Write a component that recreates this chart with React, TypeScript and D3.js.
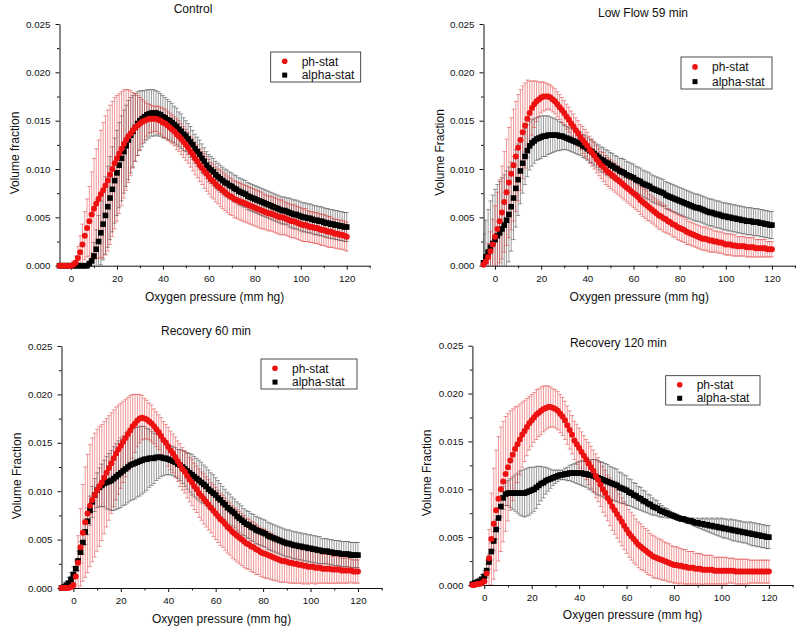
import React, { useEffect, useRef } from 'react'
import * as d3 from 'd3'

// oxygen pressure grid (mm hg), one reading per mm hg
const pressure = d3.range(-5, 121)

// volume fractions in units of 1e-4, *Sd = half length of the error bar
const controlPh = [
  0, 0, 0, 0, 0, 0, 1, 3, 8, 14,
  22, 31, 39, 46, 53, 59, 64, 69, 74, 78,
  83, 88, 94, 100, 106, 111, 116, 121, 126, 130,
  134, 137, 140, 143, 145, 147, 149, 150, 151, 152,
  152, 152, 152, 151, 150, 148, 147, 145, 143, 141,
  139, 136, 134, 131, 128, 125, 122, 118, 115, 111,
  108, 104, 101, 98, 95, 92, 89, 87, 84, 82,
  80, 78, 76, 74, 72, 71, 69, 68, 67, 66,
  65, 64, 63, 62, 61, 60, 59, 58, 57, 56,
  55, 54, 54, 53, 52, 51, 50, 50, 49, 48,
  47, 46, 46, 45, 44, 43, 42, 42, 41, 40,
  40, 39, 39, 38, 37, 37, 36, 35, 35, 34,
  33, 33, 32, 32, 31, 30]
const controlPhSd = [
  0, 0, 0, 0, 1, 2, 4, 7, 12, 17,
  21, 25, 30, 36, 44, 52, 57, 61, 66, 70,
  72, 73, 72, 70, 68, 65, 62, 59, 56, 52,
  48, 44, 39, 35, 31, 27, 23, 20, 17, 15,
  14, 13, 13, 14, 14, 15, 15, 15, 15, 15,
  15, 16, 16, 16, 16, 16, 16, 16, 17, 17,
  17, 17, 17, 18, 18, 18, 18, 18, 18, 18,
  19, 19, 19, 19, 19, 19, 19, 19, 19, 19,
  19, 19, 19, 19, 19, 19, 19, 19, 19, 18,
  18, 18, 18, 18, 18, 18, 18, 18, 17, 17,
  17, 17, 17, 17, 17, 17, 17, 17, 16, 16,
  16, 16, 16, 16, 16, 16, 16, 16, 16, 15,
  15, 15, 15, 15, 15, 15]
const controlAlpha = [
  0, 0, 0, 0, 0, 0, 0, 0, 0, 0,
  0, 0, 0, 2, 5, 10, 17, 25, 34, 43,
  52, 61, 70, 79, 88, 96, 104, 111, 118, 124,
  130, 135, 139, 143, 147, 150, 152, 154, 156, 157,
  158, 158, 158, 157, 156, 154, 153, 151, 150, 148,
  146, 144, 141, 139, 136, 134, 131, 128, 125, 121,
  118, 115, 111, 108, 104, 101, 99, 97, 94, 92,
  90, 88, 86, 85, 83, 82, 80, 79, 77, 76,
  75, 74, 72, 71, 70, 69, 68, 67, 66, 65,
  64, 63, 62, 61, 60, 59, 58, 57, 57, 56,
  55, 54, 53, 53, 52, 51, 50, 50, 49, 49,
  48, 47, 47, 46, 46, 45, 44, 44, 43, 43,
  42, 42, 41, 41, 40, 40]
const controlAlphaSd = [
  0, 0, 0, 0, 0, 0, 0, 0, 0, 0,
  0, 0, 0, 3, 8, 14, 20, 27, 33, 37,
  40, 42, 43, 44, 44, 44, 44, 44, 43, 42,
  41, 39, 37, 35, 33, 31, 29, 27, 26, 25,
  24, 24, 23, 23, 22, 22, 21, 21, 20, 20,
  19, 19, 18, 18, 17, 16, 16, 16, 15, 15,
  15, 15, 15, 14, 14, 14, 14, 14, 14, 14,
  14, 14, 14, 14, 14, 14, 14, 14, 14, 14,
  14, 14, 14, 14, 14, 14, 14, 14, 14, 14,
  14, 14, 14, 14, 14, 14, 14, 14, 14, 14,
  15, 15, 15, 15, 15, 15, 15, 15, 15, 15,
  15, 15, 15, 15, 15, 15, 15, 15, 15, 15,
  15, 15, 15, 15, 15, 15]

const lowFlowPh = [
  1, 4, 9, 15, 22, 30, 38, 46, 55, 66,
  76, 86, 95, 104, 113, 122, 130, 138, 145, 152,
  158, 163, 167, 170, 172, 174, 175, 175, 175, 174,
  172, 170, 167, 164, 161, 158, 154, 151, 147, 144,
  140, 137, 133, 130, 127, 124, 120, 117, 114, 110,
  107, 104, 102, 99, 97, 95, 93, 91, 89, 87,
  85, 83, 81, 79, 77, 75, 73, 71, 68, 66,
  64, 62, 60, 58, 56, 54, 52, 51, 49, 48,
  46, 45, 43, 42, 40, 39, 38, 37, 35, 34,
  33, 32, 31, 30, 29, 28, 28, 27, 26, 26,
  25, 25, 24, 24, 23, 22, 22, 22, 21, 21,
  20, 20, 20, 20, 19, 19, 19, 19, 18, 18,
  18, 18, 18, 17, 17, 17]
const lowFlowPhSd = [
  3, 8, 14, 20, 26, 32, 38, 43, 48, 52,
  55, 57, 58, 58, 57, 55, 52, 48, 44, 40,
  33, 28, 24, 21, 18, 16, 15, 14, 13, 13,
  13, 13, 13, 13, 13, 13, 13, 13, 13, 13,
  13, 13, 13, 14, 14, 14, 14, 14, 14, 14,
  14, 14, 15, 15, 15, 15, 15, 15, 15, 15,
  15, 15, 15, 15, 15, 15, 15, 15, 15, 15,
  15, 15, 14, 14, 14, 14, 14, 14, 14, 14,
  13, 13, 13, 13, 13, 13, 13, 13, 13, 12,
  12, 12, 12, 12, 12, 12, 12, 12, 12, 12,
  11, 11, 11, 11, 11, 11, 11, 11, 11, 11,
  10, 10, 10, 10, 10, 10, 10, 10, 9, 9,
  9, 9, 9, 8, 8, 8]
const lowFlowAlpha = [
  3, 9, 14, 19, 23, 27, 31, 34, 38, 42,
  47, 53, 61, 70, 80, 89, 98, 106, 113, 119,
  124, 127, 129, 131, 132, 133, 134, 134, 135, 135,
  135, 135, 135, 134, 134, 133, 132, 131, 130, 129,
  128, 127, 126, 124, 123, 121, 119, 118, 116, 114,
  112, 110, 109, 107, 106, 104, 103, 101, 100, 98,
  97, 96, 94, 93, 92, 91, 89, 88, 87, 85,
  84, 83, 82, 80, 79, 78, 77, 76, 75, 73,
  72, 71, 70, 69, 68, 67, 66, 65, 64, 63,
  62, 61, 60, 60, 59, 58, 57, 56, 55, 55,
  54, 53, 53, 52, 51, 51, 50, 50, 49, 49,
  48, 48, 47, 47, 46, 46, 46, 45, 45, 45,
  44, 44, 43, 43, 42, 42]
const lowFlowAlphaSd = [
  30, 38, 44, 48, 50, 52, 53, 53, 53, 52,
  51, 49, 46, 43, 40, 37, 34, 31, 29, 27,
  25, 24, 23, 22, 22, 22, 21, 21, 20, 19,
  18, 17, 16, 15, 14, 13, 12, 12, 12, 12,
  12, 12, 12, 12, 12, 12, 12, 12, 12, 12,
  13, 13, 13, 13, 13, 13, 13, 13, 13, 13,
  14, 14, 14, 14, 14, 14, 14, 14, 14, 14,
  14, 14, 14, 14, 14, 14, 14, 14, 14, 14,
  14, 14, 14, 14, 14, 14, 14, 14, 14, 14,
  14, 14, 14, 14, 14, 14, 14, 14, 14, 14,
  14, 14, 14, 14, 14, 14, 14, 14, 14, 14,
  14, 14, 14, 14, 14, 14, 14, 14, 14, 14,
  14, 14, 14, 14, 14, 14]

const rec60Ph = [
  0, 0, 0, 0, 1, 3, 12, 26, 42, 57,
  68, 77, 85, 91, 96, 101, 105, 109, 114, 119,
  124, 129, 134, 139, 143, 147, 151, 155, 159, 163,
  167, 170, 173, 175, 176, 175, 174, 172, 170, 167,
  164, 161, 157, 153, 150, 146, 142, 139, 135, 131,
  127, 123, 120, 116, 112, 109, 105, 102, 98, 95,
  92, 89, 86, 83, 80, 77, 74, 71, 69, 66,
  63, 61, 58, 56, 54, 52, 50, 48, 46, 45,
  43, 42, 40, 39, 37, 36, 35, 34, 33, 32,
  31, 30, 29, 28, 28, 27, 26, 26, 25, 25,
  24, 24, 23, 23, 22, 22, 22, 21, 21, 21,
  20, 20, 20, 20, 19, 19, 19, 19, 18, 18,
  18, 18, 18, 17, 17, 17]
const rec60PhSd = [
  0, 0, 0, 0, 2, 6, 15, 28, 40, 50,
  57, 61, 63, 64, 64, 63, 62, 60, 58, 56,
  54, 52, 50, 48, 46, 44, 42, 40, 38, 36,
  33, 30, 27, 25, 23, 21, 20, 19, 19, 18,
  18, 18, 19, 19, 19, 20, 20, 20, 21, 21,
  22, 22, 22, 23, 23, 24, 24, 24, 25, 25,
  26, 26, 26, 26, 27, 27, 27, 27, 27, 27,
  27, 27, 27, 27, 27, 27, 27, 27, 26, 26,
  26, 26, 26, 25, 25, 25, 25, 24, 24, 24,
  23, 23, 23, 22, 22, 21, 21, 21, 20, 20,
  19, 19, 19, 18, 18, 17, 17, 17, 16, 16,
  15, 15, 15, 15, 14, 14, 14, 14, 13, 13,
  13, 13, 12, 12, 12, 12]
const rec60Alpha = [
  0, 1, 3, 5, 9, 14, 20, 28, 37, 47,
  58, 69, 80, 89, 96, 101, 104, 106, 108, 109,
  110, 111, 113, 115, 117, 119, 121, 123, 125, 127,
  128, 129, 130, 131, 132, 133, 133, 134, 134, 134,
  135, 135, 135, 134, 134, 133, 132, 131, 130, 128,
  127, 125, 123, 121, 119, 117, 115, 113, 111, 109,
  107, 105, 102, 100, 98, 96, 93, 91, 88, 86,
  83, 81, 79, 77, 74, 72, 70, 68, 66, 65,
  63, 62, 60, 59, 58, 57, 56, 54, 53, 52,
  51, 50, 49, 48, 47, 46, 46, 45, 44, 44,
  43, 43, 42, 42, 41, 41, 40, 40, 39, 39,
  38, 38, 38, 37, 37, 36, 36, 36, 35, 35,
  35, 35, 34, 34, 34, 34]
const rec60AlphaSd = [
  1, 2, 4, 6, 7, 8, 9, 10, 11, 12,
  13, 14, 15, 16, 17, 18, 20, 22, 24, 27,
  29, 31, 33, 34, 35, 36, 36, 37, 37, 37,
  37, 37, 36, 36, 35, 34, 32, 30, 28, 26,
  24, 22, 20, 18, 17, 16, 15, 15, 15, 15,
  16, 17, 18, 19, 20, 21, 21, 21, 21, 21,
  20, 20, 20, 19, 19, 18, 18, 17, 17, 16,
  16, 16, 15, 15, 15, 15, 15, 14, 14, 14,
  14, 14, 14, 14, 14, 14, 14, 14, 14, 14,
  14, 14, 14, 14, 14, 14, 14, 14, 14, 14,
  14, 14, 14, 14, 14, 14, 14, 14, 14, 14,
  13, 13, 13, 13, 13, 13, 13, 13, 13, 13,
  13, 13, 13, 13, 13, 13]

const rec120Ph = [
  0, 0, 1, 1, 2, 4, 12, 28, 48, 64,
  78, 90, 100, 108, 116, 123, 130, 136, 142, 147,
  152, 157, 161, 165, 169, 172, 175, 178, 180, 182,
  184, 185, 186, 186, 185, 184, 182, 179, 176, 172,
  167, 162, 157, 151, 147, 143, 139, 135, 131, 127,
  123, 119, 114, 110, 105, 100, 96, 91, 87, 82,
  78, 74, 70, 66, 62, 58, 54, 51, 48, 45,
  42, 40, 38, 36, 34, 32, 30, 29, 28, 27,
  26, 25, 24, 23, 22, 21, 21, 20, 20, 19,
  19, 18, 18, 18, 17, 17, 17, 16, 16, 16,
  16, 16, 15, 15, 15, 15, 15, 15, 15, 15,
  15, 14, 14, 14, 14, 14, 14, 14, 14, 14,
  14, 14, 14, 14, 14, 14]
const rec120PhSd = [
  0, 0, 0, 1, 2, 5, 14, 30, 48, 58,
  63, 65, 65, 63, 60, 56, 52, 48, 44, 40,
  37, 34, 32, 30, 28, 27, 26, 26, 25, 25,
  24, 23, 22, 21, 20, 20, 20, 20, 20, 20,
  20, 20, 20, 20, 21, 21, 21, 21, 21, 22,
  22, 22, 23, 23, 23, 24, 24, 24, 25, 25,
  25, 25, 25, 25, 25, 25, 25, 25, 25, 24,
  24, 24, 23, 23, 23, 22, 22, 22, 21, 21,
  21, 20, 20, 20, 19, 19, 19, 19, 18, 18,
  18, 17, 17, 17, 16, 16, 16, 16, 15, 15,
  15, 15, 14, 14, 14, 14, 14, 14, 13, 13,
  13, 13, 13, 13, 13, 13, 13, 12, 12, 12,
  12, 12, 12, 12, 12, 12]
const rec120Alpha = [
  1, 2, 3, 4, 6, 9, 15, 24, 35, 46,
  58, 70, 82, 91, 95, 96, 96, 96, 96, 96,
  96, 96, 96, 97, 98, 99, 100, 102, 104, 106,
  107, 109, 110, 111, 112, 113, 114, 115, 115, 116,
  116, 117, 117, 117, 117, 117, 117, 116, 116, 115,
  115, 114, 113, 112, 111, 110, 109, 108, 107, 106,
  105, 104, 102, 101, 100, 99, 97, 96, 94, 93,
  91, 90, 88, 87, 85, 84, 82, 81, 80, 78,
  77, 76, 75, 74, 73, 72, 71, 70, 69, 69,
  68, 67, 67, 66, 65, 65, 64, 64, 63, 63,
  62, 62, 61, 61, 60, 60, 59, 59, 58, 58,
  57, 57, 56, 56, 55, 55, 54, 54, 53, 53,
  52, 52, 51, 51, 50, 50]
const rec120AlphaSd = [
  1, 2, 3, 4, 5, 6, 7, 8, 9, 10,
  10, 11, 11, 12, 12, 13, 15, 17, 19, 21,
  23, 24, 25, 25, 25, 24, 23, 22, 20, 18,
  16, 14, 12, 10, 8, 7, 6, 5, 5, 6,
  7, 8, 9, 10, 11, 12, 13, 13, 14, 15,
  16, 17, 18, 18, 18, 18, 18, 18, 17, 17,
  17, 17, 16, 16, 15, 15, 14, 14, 13, 13,
  12, 12, 11, 11, 10, 10, 9, 8, 8, 7,
  6, 5, 5, 4, 3, 3, 3, 2, 2, 2,
  2, 3, 3, 4, 4, 5, 5, 6, 6, 7,
  7, 8, 8, 9, 9, 10, 10, 10, 10, 11,
  11, 11, 11, 11, 11, 11, 11, 12, 12, 12,
  12, 12, 12, 12, 12, 12]

const UNIT = 1e-4
const xMajor = [0, 20, 40, 60, 80, 100, 120]
const xMinor = [10, 30, 50, 70, 90, 110, 130]
const yMajor = [0, 0.005, 0.01, 0.015, 0.02, 0.025]
const yMinor = [0.0025, 0.0075, 0.0125, 0.0175, 0.0225]
const seriesNames = ['ph-stat', 'alpha-stat']

const FONT = '"Liberation Sans", Arial, Helvetica, sans-serif'
const RED = '#ee1111'

type Panel = {
  title: string
  yLabel: string
  ph: number[]
  phSd: number[]
  alpha: number[]
  alphaSd: number[]
  box: { left: number; right: number; top: number; bottom: number }
  titlePos: [number, number]
  yLabelPos: [number, number]
  xLabelY: number
  legend: { x: number; y: number; w: number; h: number }
}

const panels: Panel[] = [
  {
    title: 'Control', yLabel: 'Volume fraction',
    ph: controlPh, phSd: controlPhSd, alpha: controlAlpha, alphaSd: controlAlphaSd,
    box: { left: 59.5, right: 369.7, top: 24, bottom: 265.7 },
    titlePos: [193, 13.3], yLabelPos: [18.5, 153], xLabelY: 301,
    legend: { x: 270.7, y: 52, w: 90, h: 30 },
  },
  {
    title: 'Low Flow 59 min', yLabel: 'Volume Fraction',
    ph: lowFlowPh, phSd: lowFlowPhSd, alpha: lowFlowAlpha, alphaSd: lowFlowAlphaSd,
    box: { left: 483.5, right: 795, top: 24, bottom: 265.7 },
    titlePos: [643, 16.7], yLabelPos: [443.5, 152.5], xLabelY: 301,
    legend: { x: 681, y: 57, w: 91, h: 32 },
  },
  {
    title: 'Recovery 60 min', yLabel: 'Volume Fraction',
    ph: rec60Ph, phSd: rec60PhSd, alpha: rec60Alpha, alphaSd: rec60AlphaSd,
    box: { left: 61.5, right: 381.7, top: 346, bottom: 588 },
    titlePos: [206, 335], yLabelPos: [20.5, 476], xLabelY: 622.5,
    legend: { x: 261, y: 359, w: 96, h: 30 },
  },
  {
    title: 'Recovery 120 min', yLabel: 'Volume Fraction',
    ph: rec120Ph, phSd: rec120PhSd, alpha: rec120Alpha, alphaSd: rec120AlphaSd,
    box: { left: 472.4, right: 792.6, top: 345.7, bottom: 585 },
    titlePos: [618.3, 346.5], yLabelPos: [430.5, 473], xLabelY: 619,
    legend: { x: 665.7, y: 375.7, w: 94.3, h: 29.3 },
  },
]

export default function App() {
  const ref = useRef<SVGSVGElement | null>(null)

  useEffect(() => {
    const svg = d3.select(ref.current!)
    svg.selectAll('*').remove()
    svg.append('rect').attr('width', 800).attr('height', 631).attr('fill', '#fff')

    panels.forEach((p, pi) => {
      const { left, right, top, bottom } = p.box
      const x = d3.scaleLinear().domain([-5, 130]).range([left, right])
      const y = d3.scaleLinear().domain([0, 0.025]).range([bottom, top])
      const g = svg.append('g').attr('font-family', FONT)

      const clipId = `clip${pi}`
      g.append('clipPath').attr('id', clipId).append('rect')
        .attr('x', left).attr('y', top).attr('width', right - left).attr('height', bottom - top)

      // axes
      const xAxis = g.append('g').attr('transform', `translate(0,${bottom})`)
        .call(d3.axisBottom(x).tickValues(xMajor).tickSize(4).tickSizeOuter(0).tickPadding(5.5).tickFormat(d3.format('d')))
      g.append('g').attr('transform', `translate(0,${bottom})`)
        .call(d3.axisBottom(x).tickValues(xMinor).tickSize(2.5).tickFormat(() => ''))
        .call(a => a.select('.domain').remove())
      const yAxis = g.append('g').attr('transform', `translate(${left},0)`)
        .call(d3.axisLeft(y).tickValues(yMajor).tickSize(4).tickSizeOuter(0).tickPadding(5).tickFormat(d3.format('.3f')))
      g.append('g').attr('transform', `translate(${left},0)`)
        .call(d3.axisLeft(y).tickValues(yMinor).tickSize(2.5).tickFormat(() => ''))
        .call(a => a.select('.domain').remove())
      ;[xAxis, yAxis].forEach(a => a.selectAll('text').attr('font-family', FONT).attr('font-size', 9.8).attr('fill', '#111'))
      g.selectAll('.domain, .tick line').attr('stroke', '#111')

      // error bars
      const bars = (vals: number[], sds: number[], color: string, width: number, opacity: number) => {
        const layer = g.append('g').attr('clip-path', `url(#${clipId})`)
          .attr('stroke', color).attr('stroke-width', width).attr('stroke-opacity', opacity)
        pressure.forEach((px, i) => {
          const v = vals[i], s = sds[i]
          if (v === undefined || !s) return
          const cx = x(px)
          const y0 = y((v - s) * UNIT), y1 = y((v + s) * UNIT)
          layer.append('line').attr('x1', cx).attr('x2', cx).attr('y1', y0).attr('y2', y1)
          layer.append('line').attr('x1', cx - 2).attr('x2', cx + 2).attr('y1', y1).attr('y2', y1)
          layer.append('line').attr('x1', cx - 2).attr('x2', cx + 2).attr('y1', y0).attr('y2', y0)
        })
      }
      bars(p.alpha, p.alphaSd, '#222', 0.5, 0.9)
      bars(p.ph, p.phSd, '#dd2020', 0.55, 0.85)

      // markers
      g.append('g').selectAll('rect').data(pressure.map((px, i) => [px, p.alpha[i]])).enter().append('rect')
        .attr('x', d => x(d[0]) - 2.8).attr('y', d => y(d[1] * UNIT) - 2.8)
        .attr('width', 5.6).attr('height', 5.6).attr('fill', '#000')
      g.append('g').selectAll('circle').data(pressure.map((px, i) => [px, p.ph[i]])).enter().append('circle')
        .attr('cx', d => x(d[0])).attr('cy', d => y(d[1] * UNIT)).attr('r', 3).attr('fill', RED)

      // titles
      g.append('text').attr('x', p.titlePos[0]).attr('y', p.titlePos[1]).attr('text-anchor', 'middle')
        .attr('font-size', 12).attr('fill', '#111').text(p.title)
      g.append('text').attr('transform', `translate(${p.yLabelPos[0]},${p.yLabelPos[1]}) rotate(-90)`)
        .attr('text-anchor', 'middle').attr('font-size', 12).attr('fill', '#111').text(p.yLabel)
      g.append('text').attr('x', (left + right) / 2).attr('y', p.xLabelY).attr('text-anchor', 'middle')
        .attr('font-size', 12).attr('fill', '#111').text('Oxygen pressure (mm hg)')

      // legend
      const L = p.legend
      const lg = g.append('g')
      lg.append('rect').attr('x', L.x).attr('y', L.y).attr('width', L.w).attr('height', L.h)
        .attr('fill', '#fff').attr('stroke', '#222').attr('stroke-width', 0.8)
      const rowY = [L.y + L.h * 0.31, L.y + L.h * 0.77]
      lg.append('circle').attr('cx', L.x + 14).attr('cy', rowY[0]).attr('r', 2.8).attr('fill', RED)
      lg.append('rect').attr('x', L.x + 11.5).attr('y', rowY[1] - 2.5).attr('width', 5).attr('height', 5).attr('fill', '#000')
      seriesNames.forEach((name, i) => {
        lg.append('text').attr('x', L.x + 31).attr('y', rowY[i]).attr('dy', '0.35em')
          .attr('font-size', 12).attr('fill', '#111').text(name)
      })
    })
  }, [])

  return (
    <svg ref={ref} width={800} height={631} viewBox="0 0 800 631"
      style={{ position: 'absolute', left: 0, top: 0, display: 'block' }} />
  )
}
